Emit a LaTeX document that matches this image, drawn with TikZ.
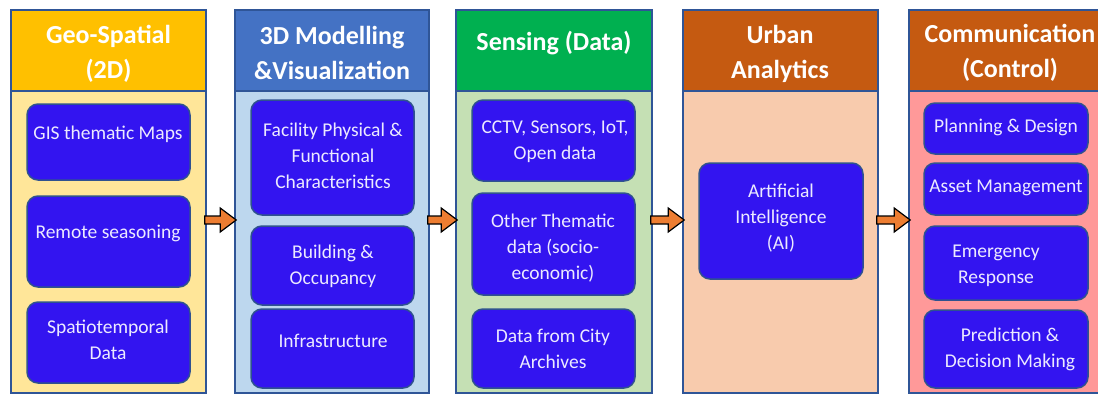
\documentclass[tikz,border=0pt]{standalone}
\usepackage{fontspec}
\setmainfont{Carlito}
\usetikzlibrary{calc}
\definecolor{hdrY}{HTML}{FFC000}
\definecolor{bodyY}{HTML}{FFE699}
\definecolor{hdrB}{HTML}{4472C4}
\definecolor{bodyB}{HTML}{BDD7EE}
\definecolor{hdrG}{HTML}{00B050}
\definecolor{bodyG}{HTML}{C5E0B4}
\definecolor{hdrO}{HTML}{C55A11}
\definecolor{bodyO}{HTML}{F8CBAD}
\definecolor{bodyP}{HTML}{FF9999}
\definecolor{arroworange}{HTML}{ED7D31}
\definecolor{colborder}{RGB}{47,85,151}
\definecolor{boxfill}{RGB}{51,20,240}
\definecolor{boxborder}{RGB}{47,82,143}
\definecolor{txtlight}{RGB}{236,234,255}
\tikzset{
  colpart/.style={draw=colborder, line width=1.6pt, inner sep=0pt},
  ibox/.style={draw=boxborder, line width=1.5pt, fill=boxfill, rounded corners=11pt, inner sep=0pt},
  itext/.style={text=txtlight, font=\fontsize{19.5}{26}\selectfont, align=center, inner sep=0pt},
  htext/.style={text=white, font=\bfseries\fontsize{26}{35}\selectfont, align=center, inner sep=0pt},
  barrow/.style={draw=black, line width=1.2pt, fill=arroworange, line join=miter},
}
% column: name, x1, x2, header colour, body colour
\newcommand\colmn[5]{%
  \node[colpart, fill=#5, minimum width={(#3-#2)*1pt}, minimum height=302pt] (#1b) at ({(#2+#3)/2},242) {};
  \node[colpart, fill=#4, minimum width={(#3-#2)*1pt}, minimum height=81pt] (#1h) at ({(#2+#3)/2},50.5) {};}
% inner box: name, x1, y1, x2, y2, text x, text y, text
\newcommand\ibx[8]{%
  \node[ibox, minimum width={(#4-#2)*1pt}, minimum height={(#5-#3)*1pt}] (#1) at ({(#2+#4)/2},{(#3+#5)/2}) {};
  \node[itext] (#1t) at (#6,#7) {#8};}
% block arrow from column #1 to column #2
\newcommand\blockarrow[2]{%
  \path (#1.east |- ay) coordinate (#1s) (#2.west |- ay) coordinate (#2e);
  \draw[barrow] ($(#1s)+(-2,-4)$) -- ($(#2e)+(-14,-4)$) -- ($(#2e)+(-14,-12)$) -- ($(#2e)+(2,0)$)
     -- ($(#2e)+(-14,12)$) -- ($(#2e)+(-14,4)$) -- ($(#1s)+(-2,4)$) -- cycle;}
\begin{document}
\begin{tikzpicture}[x=1pt,y=-1pt]
\useasboundingbox (0,0) rectangle (1098,394);
\clip (0,0) rectangle (1098,394);
\fill[white] (0,0) rectangle (1098,394);
\coordinate (ay) at (0,220);

\colmn{c1}{11}{206}{hdrY}{bodyY}
\colmn{c2}{235}{429}{hdrB}{bodyB}
\colmn{c3}{456}{652}{hdrG}{bodyG}
\colmn{c4}{683}{878}{hdrO}{bodyO}
\colmn{c5}{909}{1104}{hdrO}{bodyP}

\node[htext] (h1) at (108.5,53.5) {Geo-Spatial\\(2D)};
\node[htext] (h2) at (332,53) {3D Modelling\\\&Visualization};
\node[htext] (h3) at (554,43) {Sensing (Data)};
\node[htext] (h4) at (780,54) {Urban\\Analytics};
\node[htext] (h5) at (1010,53) {Communication\\(Control)};

\ibx{a1}{27}{104}{190}{180}{108}{134}{GIS thematic Maps}
\ibx{a2}{27}{196}{190}{287}{108}{233}{Remote seasoning}
\ibx{a3}{27}{302}{190}{383}{108}{340}{Spatiotemporal\\Data}

\ibx{b1}{251}{100}{414}{215}{333}{156}{Facility Physical \&\\Functional\\Characteristics}
\ibx{b2}{251}{226}{414}{305}{333}{266}{Building \&\\Occupancy}
\ibx{b3}{251}{309}{414}{388}{333}{341}{Infrastructure}

\ibx{d1}{472}{100}{635}{181}{555}{142}{CCTV, Sensors, IoT,\\Open data}
\ibx{d2}{472}{193}{635}{295}{553}{248}{Other Thematic\\data (socio-\\economic)}
\ibx{d3}{472}{309}{635}{388}{553}{349}{Data from City\\Archives}

\ibx{e1}{699}{163}{863}{279}{781}{218}{Artificial\\Intelligence\\(AI)}

\ibx{f1}{924}{103}{1088}{154}{1006}{127}{Planning \& Design}
\ibx{f2}{924}{163}{1088}{215}{1006}{188}{Asset Management}
\ibx{f3}{924}{226}{1088}{300}{996}{266}{Emergency\\Response}
\ibx{f4}{924}{310}{1088}{388}{1010}{349}{Prediction \&\\Decision Making}

\blockarrow{c1b}{c2b}
\blockarrow{c2b}{c3b}
\blockarrow{c3b}{c4b}
\blockarrow{c4b}{c5b}
\end{tikzpicture}
\end{document}
